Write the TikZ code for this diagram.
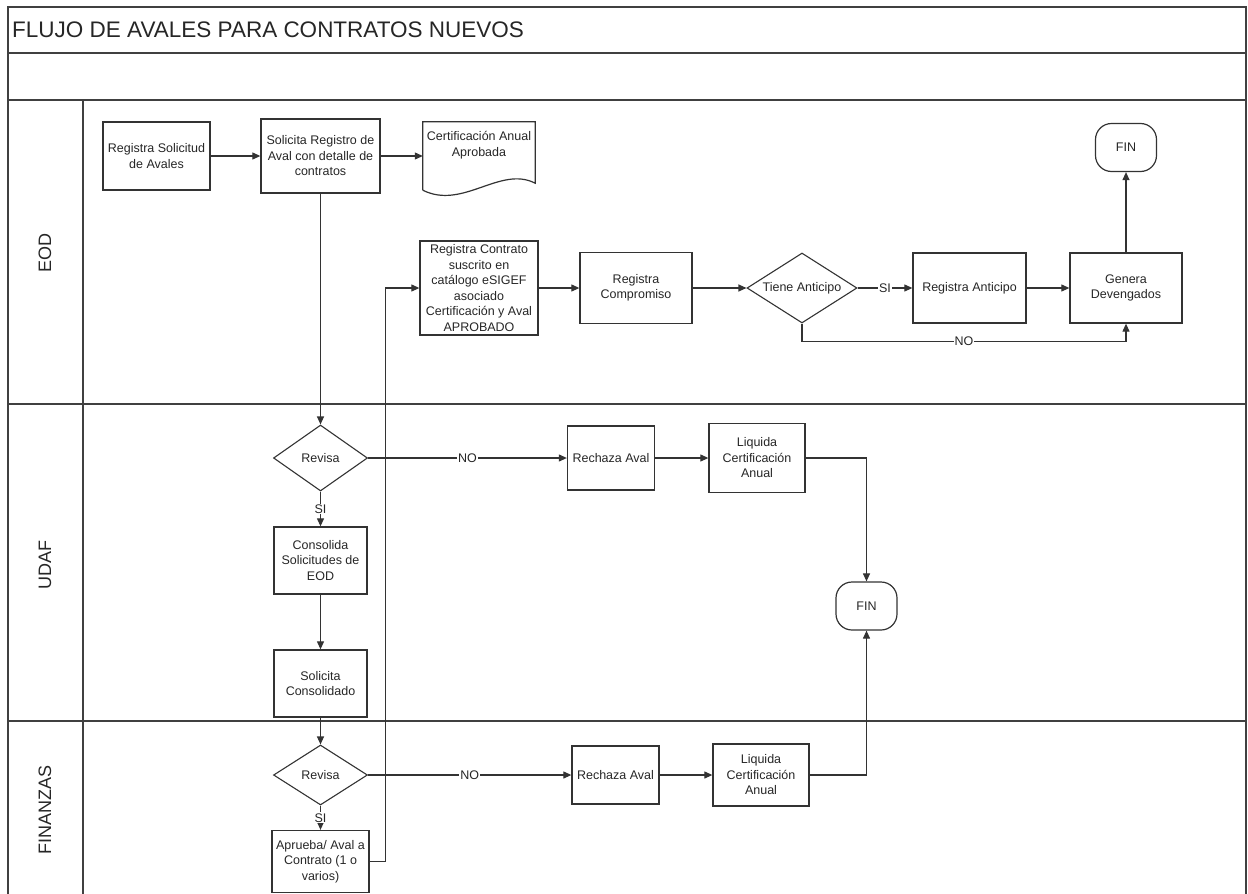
\documentclass[tikz,border=0pt]{standalone}
\usepackage{fontspec}
\setmainfont{Liberation Sans}
\usetikzlibrary{arrows.meta,shapes.geometric}

\begin{document}
\begin{tikzpicture}[
			x=1pt,y=-1pt,
			font=\fontsize{12.5}{15.5}\selectfont,
			every node/.style={text=black!85},
			proc/.style={draw=black!80,line width=1.3pt,align=center,inner sep=1pt},
			decision/.style={diamond,draw=black!80,line width=1.1pt,aspect=1.5,inner sep=0pt},
			fin/.style={draw=black!80,line width=1.2pt,rounded corners=16pt,minimum width=61pt,minimum height=48pt},
			flow/.style={draw=black!80,line width=1.1pt,-{Triangle[length=8pt,width=7pt]}},
			lane/.style={draw=black!75,line width=1.3pt},
			lanename/.style={rotate=90,font=\fontsize{18}{20}\selectfont},
			lbl/.style={fill=white,inner sep=1pt}
		]
		\useasboundingbox (0,0) rectangle (1248,894);
		% marco y carriles
		\draw[lane] (8,894) |- (1246,7) -- (1246,894);
		\foreach \y in {53,100,404,721}
			\draw[lane] (8,\y) -- (1246,\y);
		\draw[lane] (83,100) -- (83,894);
		\node[anchor=base west,inner sep=0pt,font=\fontsize{22.5}{24}\selectfont] (title) at (12,37) {FLUJO DE AVALES PARA CONTRATOS NUEVOS};
		\node[lanename] (eod) at (45,253) {EOD};
		\node[lanename] (udaf) at (45,565) {UDAF};
		\node[lanename] (finanzas) at (45,810) {FINANZAS};

		% EOD
		\node[proc,minimum width=107pt,minimum height=68pt] (regsol) at (156.5,156) {Registra Solicitud\\de Avales};
		\node[proc,minimum width=119pt,minimum height=74pt] (solreg) at (320.5,156) {Solicita Registro de\\Aval con detalle de\\contratos};
		\node[minimum width=112pt,minimum height=68pt] (cert) at (479,156) {};
		\node[align=center] (certtxt) at (479,145) {Certificación Anual\\Aprobada};
		\draw[draw=black!80,line width=1.2pt] (cert.south west) |- (cert.north east) -- ([yshift=7pt]cert.south east)
			.. controls ([xshift=-35pt,yshift=25pt]cert.south east) and ([xshift=40pt,yshift=-20pt]cert.south west) .. (cert.south west);
		\node[proc,minimum width=118pt,minimum height=94pt] (regcon) at (479,288) {Registra Contrato\\suscrito en\\catálogo eSIGEF\\asociado\\Certificación y Aval\\APROBADO};
		\node[proc,minimum width=112pt,minimum height=71pt] (regcomp) at (636,288) {Registra\\Compromiso};
		\node[decision,minimum width=110pt,minimum height=70pt] (tiene) at (802,288) {Tiene Anticipo};
		\node[proc,minimum width=113pt,minimum height=70pt] (reganti) at (969.5,288) {Registra Anticipo};
		\node[proc,minimum width=112pt,minimum height=70pt] (genera) at (1126,288) {Genera\\Devengados};
		\node[fin] (fin1) at (1126,147.5) {FIN};

		% UDAF
		\node[decision,minimum width=94pt,minimum height=66pt] (rev1) at (320.5,458) {Revisa};
		\node[proc,minimum width=87pt,minimum height=64pt] (rech1) at (611,458) {Rechaza Aval};
		\node[proc,minimum width=96pt,minimum height=69pt] (liq1) at (757,458) {Liquida\\Certificación\\Anual};
		\node[proc,minimum width=93pt,minimum height=67pt] (cons) at (320.5,560.5) {Consolida\\Solicitudes de\\EOD};
		\node[proc,minimum width=93pt,minimum height=67pt] (solcons) at (320.5,683.5) {Solicita\\Consolidado};
		\node[fin] (fin2) at (866.5,606) {FIN};

		% FINANZAS
		\node[decision,minimum width=94pt,minimum height=60pt] (rev2) at (320.5,775) {Revisa};
		\node[proc,minimum width=87pt,minimum height=58pt] (rech2) at (615.5,775) {Rechaza Aval};
		\node[proc,minimum width=96pt,minimum height=62pt] (liq2) at (761,775) {Liquida\\Certificación\\Anual};
		\node[proc,minimum width=97pt,minimum height=62pt] (apr) at (320.5,861.5) {Aprueba/ Aval a\\Contrato (1 o\\varios)};

		% conectores
		\draw[flow] (regsol) -- (solreg);
		\draw[flow] (solreg) -- (cert);
		\draw[flow] (solreg) -- (rev1);
		\draw[flow] (rev1) -- node[lbl] {NO} (rech1);
		\draw[flow] (rech1) -- (liq1);
		\draw[flow] (liq1) -| (fin2);
		\draw[flow] (rev1) -- node[lbl] {SI} (cons);
		\draw[flow] (cons) -- (solcons);
		\draw[flow] (solcons) -- (rev2);
		\draw[flow] (rev2) -- node[lbl] {NO} (rech2);
		\draw[flow] (rech2) -- (liq2);
		\draw[flow] (liq2) -| (fin2);
		\draw[flow] (rev2) -- node[lbl] {SI} (apr);
		\draw[flow] (apr.east) -- ++(16,0) |- (regcon.west);
		\draw[flow] (regcon) -- (regcomp);
		\draw[flow] (regcomp) -- (tiene);
		\draw[flow] (tiene) -- node[lbl] {SI} (reganti);
		\draw[flow] (reganti) -- (genera);
		\draw[flow] (genera) -- (fin1);
		\draw[flow] (tiene.south) -- ++(0,18) -| node[lbl,pos=0.25] {NO} (genera.south);
	\end{tikzpicture}
\end{document}
